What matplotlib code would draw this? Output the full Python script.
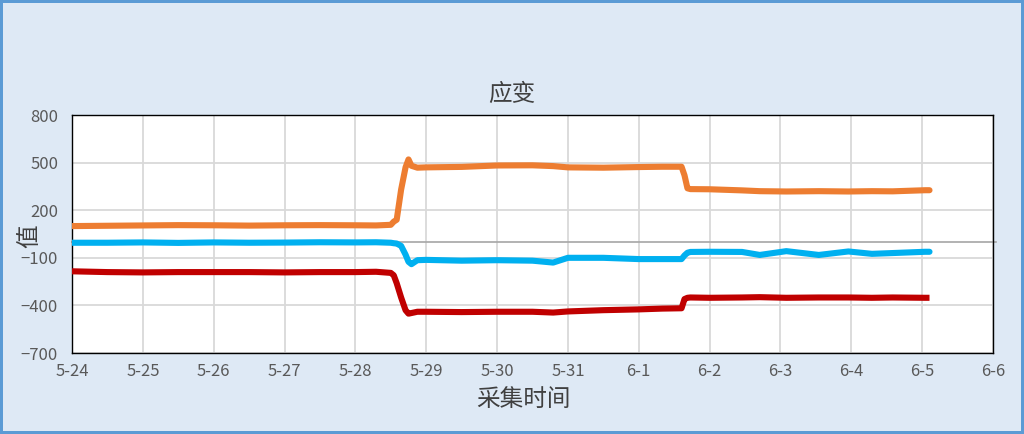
import numpy as np
import pandas as pd
import matplotlib
matplotlib.use("Agg")
import matplotlib.pyplot as plt
import matplotlib.dates as mdates
from matplotlib.ticker import FuncFormatter

plt.rcParams['font.family'] = ['Noto Sans CJK SC', 'DejaVu Sans']

# 采集时间
times = pd.to_datetime([
    "2023-05-24 00:00", "2023-05-24 12:00", "2023-05-25 00:00", "2023-05-25 12:00",
    "2023-05-26 00:00", "2023-05-26 12:00", "2023-05-27 00:00", "2023-05-27 12:00",
    "2023-05-28 00:00", "2023-05-28 07:00", "2023-05-28 12:00", "2023-05-28 13:00",
    "2023-05-28 14:00", "2023-05-28 15:30", "2023-05-28 17:00", "2023-05-28 18:00",
    "2023-05-28 19:00", "2023-05-28 21:00", "2023-05-29 00:00", "2023-05-29 12:00",
    "2023-05-30 00:00", "2023-05-30 12:00", "2023-05-30 19:00", "2023-05-31 00:00",
    "2023-05-31 12:00", "2023-06-01 00:00", "2023-06-01 08:00", "2023-06-01 14:30",
    "2023-06-01 15:30", "2023-06-01 16:30", "2023-06-01 17:30", "2023-06-02 00:00",
    "2023-06-02 11:00", "2023-06-02 17:00", "2023-06-03 02:00", "2023-06-03 13:00",
    "2023-06-03 23:00", "2023-06-04 07:00", "2023-06-04 14:00", "2023-06-05 01:00",
    "2023-06-05 02:30",
])

orange = [100, 102, 104, 106, 105, 103, 105, 106,
          105, 104, 108, 128, 140, 330, 470, 520,
          480, 468, 470, 473, 482, 483, 478, 470,
          468, 472, 474, 474, 420, 338, 333, 332,
          325, 320, 318, 320, 318, 320, 319, 326,
          326]

blue = [-5, -5, -3, -6, -3, -5, -4, -2,
        -3, -2, -5, -8, -10, -25, -80, -125,
        -140, -115, -113, -118, -115, -118, -130, -100,
        -100, -108, -108, -108, -85, -68, -63, -62,
        -63, -82, -58, -82, -60, -75, -70, -62,
        -62]

red = [-185, -190, -192, -190, -190, -190, -192, -190,
       -190, -188, -195, -210, -260, -350, -430, -452,
       -448, -440, -440, -442, -440, -440, -445, -438,
       -430, -425, -420, -418, -360, -352, -350, -352,
       -350, -348, -352, -350, -350, -352, -350, -352,
       -352]

y_ticks = [-700, -400, -100, 200, 500, 800]

bg = '#dee9f5'
fig = plt.figure(figsize=(10.24, 4.34), dpi=100, facecolor=bg,
                 edgecolor='#5b9bd5', linewidth=3)
ax = fig.add_axes([0.0703, 0.1866, 0.8994, 0.5484])
ax.set_facecolor('white')

ax.plot(times, orange, color='#ed7d31', lw=4.4, solid_capstyle='round', zorder=3)
ax.plot(times, blue, color='#00b0f0', lw=4.4, solid_capstyle='round', zorder=3)
ax.plot(times, red, color='#c00000', lw=4.4, solid_capstyle='butt', zorder=3)

ax.axhline(0, color='#a6a6a6', lw=1.2, zorder=2, xmax=1.003, clip_on=False)

ax.set_ylim(-700, 800)
ax.set_yticks(y_ticks)
ax.set_xlim(pd.Timestamp("2023-05-24"), pd.Timestamp("2023-06-06"))
ax.xaxis.set_major_locator(mdates.DayLocator())
ax.xaxis.set_major_formatter(FuncFormatter(
    lambda v, pos: f"{mdates.num2date(v).month}-{mdates.num2date(v).day}"))

ax.grid(True, color='#d9d9d9', lw=1.3, zorder=1)
ax.set_axisbelow(True)
for s in ax.spines.values():
    s.set_color('black')
    s.set_linewidth(1.0)

ax.tick_params(length=0, labelsize=12, colors='#595959')
ax.tick_params(axis='y', pad=10)
ax.tick_params(axis='x', pad=7)

fig.text(0.5, 1 - 94 / 434, '应变', fontsize=17, color='#404040',
         ha='center', va='center')
fig.text(523 / 1024, 1 - 400 / 434, '采集时间', fontsize=17, color='#404040',
         ha='center', va='center')
fig.text(30 / 1024, 1 - 236 / 434, '值', fontsize=17, color='#404040',
         ha='center', va='center', rotation=90)

fig.savefig('out.png', dpi=100, facecolor=bg, edgecolor='#5b9bd5')
